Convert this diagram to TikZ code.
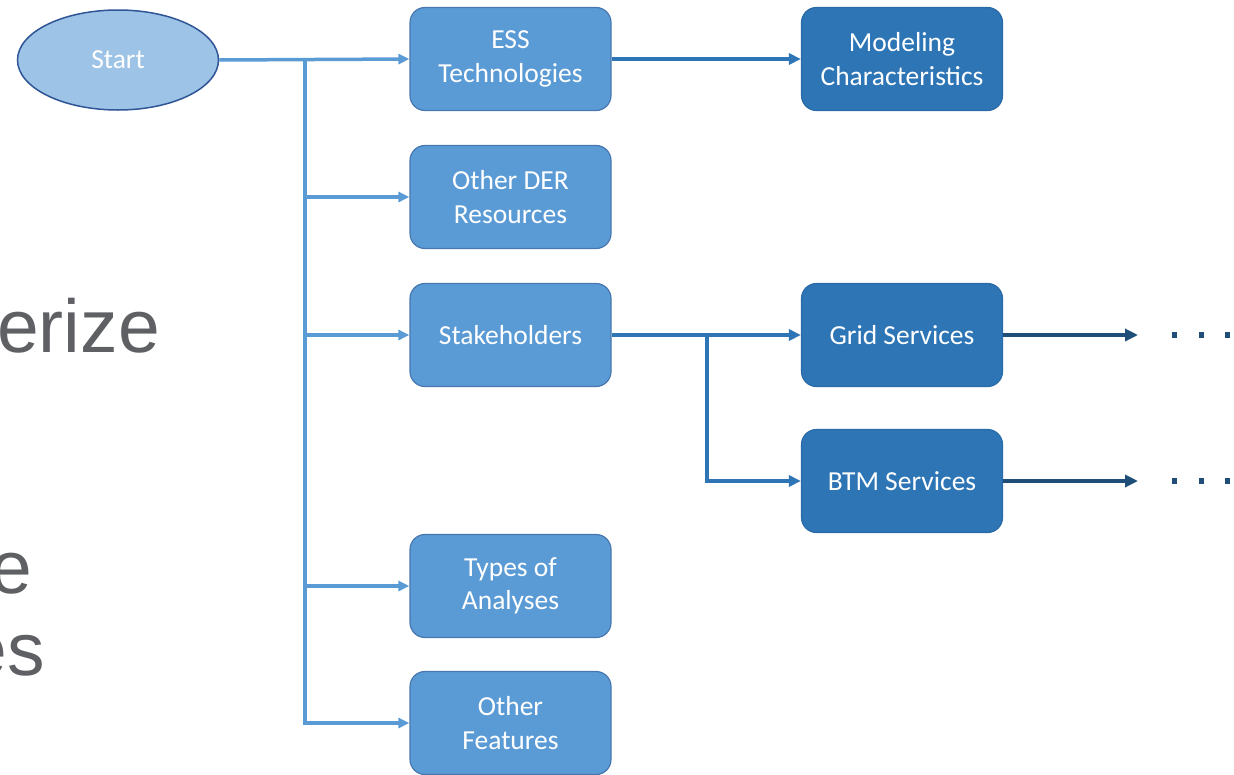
\documentclass[tikz,border=0pt]{standalone}
\usepackage{fontspec}
\setmainfont{Carlito}
\newfontfamily\leftfont{Liberation Sans}
\usetikzlibrary{arrows.meta,shapes.geometric}
\definecolor{lblue}{HTML}{5B9BD5}
\definecolor{lborder}{HTML}{4677AE}
\definecolor{dblue}{HTML}{2E75B6}
\definecolor{dborder}{HTML}{2A6AA6}
\definecolor{navy}{HTML}{1F4E79}
\definecolor{efill}{HTML}{9DC3E6}
\definecolor{eborder}{HTML}{2F5597}
\definecolor{slidegray}{HTML}{5F6064}
\tikzset{
  boxbase/.style={rectangle, rounded corners=15pt, minimum width=201pt, minimum height=103pt,
    inner sep=0pt, align=center, text=white, font=\fontsize{27.5}{33.5}\selectfont, line width=1.2pt},
  lbox/.style={boxbase, fill=lblue, draw=lborder},
  dbox/.style={boxbase, fill=dblue, draw=dborder},
  startnode/.style={ellipse, minimum width=201pt, minimum height=100pt, inner sep=0pt,
    fill=efill, draw=eborder, line width=1.5pt, text=white, font=\fontsize{27.5}{33}\selectfont},
  larrow/.style={draw=lblue, line width=3.5pt, -{Triangle[length=11pt,width=10pt]}},
  lline/.style={draw=lblue, line width=3.5pt},
  darrow/.style={draw=dblue, line width=4pt, -{Triangle[length=12pt,width=11pt]}},
  narrow/.style={draw=navy, line width=3.2pt, -{Triangle[length=13pt,width=12pt]}},
  dotsq/.style={fill=navy, minimum width=5pt, minimum height=6pt, inner sep=0pt, rectangle},
  slidetext/.style={text=slidegray, font=\leftfont\fontsize{75}{80}\selectfont, inner sep=0pt, anchor=base east}
}
\begin{document}
\begin{tikzpicture}[x=1pt,y=-1pt]
\useasboundingbox (0,0) rectangle (1234,774);
% background slide text fragments (cut off at the left edge, as in the slide)
\node[slidetext] (t1) at (160,352) {erize};
\node[slidetext] (t2) at (32,593) {e};
\node[slidetext] (t3) at (45,675) {es};
% nodes
\node[startnode] (start) at (118,60) {Start};
\node[lbox] (ess) at (510.5,59) {ESS\\Technologies};
\node[lbox] (der) at (510.5,197) {Other DER\\Resources};
\node[lbox] (stk) at (510.5,335) {Stakeholders};
\node[lbox] (types) at (510.5,586) {Types of\\Analyses};
\node[lbox] (other) at (510.5,723) {Other\\Features};
\node[dbox] (model) at (902,59) {Modeling\\Characteristics};
\node[dbox] (grid) at (902,335) {Grid Services};
\node[dbox] (btm) at (902,481) {BTM Services};
% coordinates
\coordinate (trunk) at (305,59);
\coordinate (junc) at (707,335);
\coordinate (gend) at (1138,335);
\coordinate (bend) at (1138,481);
% connectors
\draw[larrow] (start.east) -- (ess.west);
\draw[lline] ([yshift=1.5pt]trunk) -- (305,722);
\draw[larrow] (trunk) |- (der.west);
\draw[larrow] (trunk) |- (stk.west);
\draw[larrow] (trunk) |- (types.west);
\draw[larrow] (trunk) |- (other.west);
\draw[darrow] (ess.east) -- (model.west);
\draw[darrow] (stk.east) -- (grid.west);
\draw[darrow] (junc) |- (btm.west);
\draw[narrow] (grid.east) -- (gend);
\draw[narrow] (btm.east) -- (bend);
% dots
\foreach \x [count=\i] in {1174,1201,1227} {
  \node[dotsq] (gd\i) at (\x,335) {};
  \node[dotsq] (bd\i) at (\x,481) {};
}
\end{tikzpicture}
\end{document}
